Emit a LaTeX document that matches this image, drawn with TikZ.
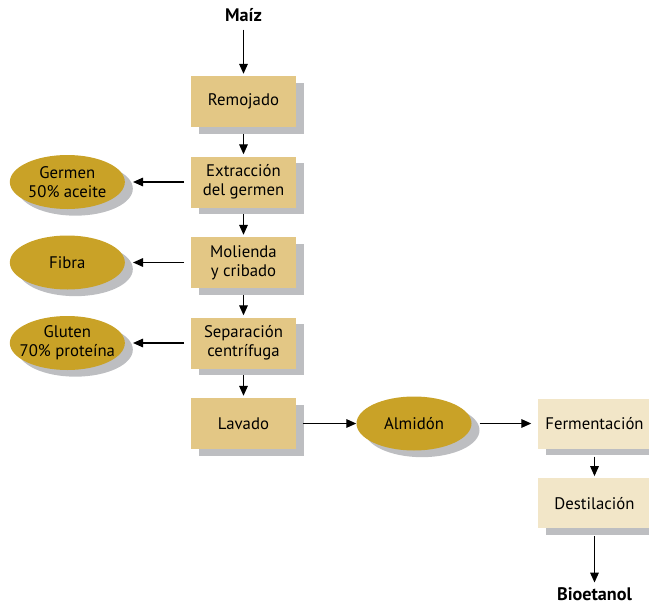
\documentclass[tikz,border=0pt]{standalone}
\usepackage{fontspec}
\setmainfont{PT Sans}
\usetikzlibrary{shapes.geometric, arrows.meta, shadows}
\definecolor{boxtan}{HTML}{E3C785}
\definecolor{ovalgold}{HTML}{C9A227}
\definecolor{paletan}{HTML}{F2E6C8}
\definecolor{shadowgray}{HTML}{BDBEC1}
\tikzstyle{grayshadow} = [drop shadow={shadow xshift=0.24cm, shadow yshift=-0.2cm, fill=shadowgray, opacity=1}]
\tikzstyle{process} = [rectangle, minimum width=3.15cm, minimum height=1.53cm, align=center, fill=boxtan, grayshadow]
\tikzstyle{final} = [rectangle, minimum width=3.42cm, minimum height=1.5cm, align=center, fill=paletan, grayshadow]
\tikzstyle{product} = [ellipse, minimum width=3.45cm, minimum height=1.62cm, inner sep=0pt, fill=ovalgold, grayshadow]
\tikzstyle{endlabel} = [font=\fontsize{15.5}{17}\selectfont\bfseries, inner sep=1pt]
\tikzstyle{arrow} = [line width=1pt, -{Triangle[length=0.3cm, width=0.26cm]}, shorten <=0.2cm, shorten >=0.06cm]

\begin{document}
\begin{tikzpicture}[node distance=2.415cm, font=\fontsize{14.3}{16}\selectfont]
    \useasboundingbox (0,0) rectangle (19.47,-18.18);

    \node (maiz) [endlabel] at (7.305,-0.45) {Maíz};
    \node (remojado) [process, below of=maiz, yshift=-0.18cm] {Remojado};
    \node (extraccion) [process, below of=remojado] {Extracción\\del germen};
    \node (molienda) [process, below of=extraccion] {Molienda\\y cribado};
    \node (separacion) [process, below of=molienda] {Separación\\centrífuga};
    \node (lavado) [process, below of=separacion] {Lavado};

    \node (germen) [product, left of=extraccion, xshift=-2.87cm, label={[align=center]center:Germen\\50\% aceite}] {};
    \node (fibra) [product, left of=molienda, xshift=-2.87cm, label={center:Fibra}] {};
    \node (gluten) [product, left of=separacion, xshift=-2.87cm, label={[align=center]center:Gluten\\70\% proteína}] {};

    \node (almidon) [product, right of=lavado, xshift=2.7cm, label={center:Almidón}] {};
    \node (fermentacion) [final, right of=almidon, xshift=3.0cm] {Fermentación};
    \node (destilacion) [final, below of=fermentacion, yshift=0.02cm] {Destilación};
    \node (bioetanol) [endlabel, below of=destilacion, yshift=-0.3cm] {Bioetanol};

    \draw [arrow, shorten <=0.2cm] (maiz) -- (remojado);
    \draw [arrow] (remojado) -- (extraccion);
    \draw [arrow] (extraccion) -- (molienda);
    \draw [arrow] (molienda) -- (separacion);
    \draw [arrow] (separacion) -- (lavado);

    \draw [arrow, shorten >=0.24cm] (extraccion.west) -- (germen.east);
    \draw [arrow, shorten >=0.24cm] (molienda.west) -- (fibra.east);
    \draw [arrow, shorten >=0.24cm] (separacion.west) -- (gluten.east);

    \draw [arrow, shorten >=0cm] (lavado.east) -- (almidon.west);
    \draw [arrow, shorten <=0.24cm, shorten >=0.18cm] (almidon.east) -- (fermentacion.west);
    \draw [arrow, shorten <=0.24cm] (fermentacion) -- (destilacion);
    \draw [arrow, shorten <=0.22cm, shorten >=0.1cm] (destilacion) -- (bioetanol);

\end{tikzpicture}
\end{document}
